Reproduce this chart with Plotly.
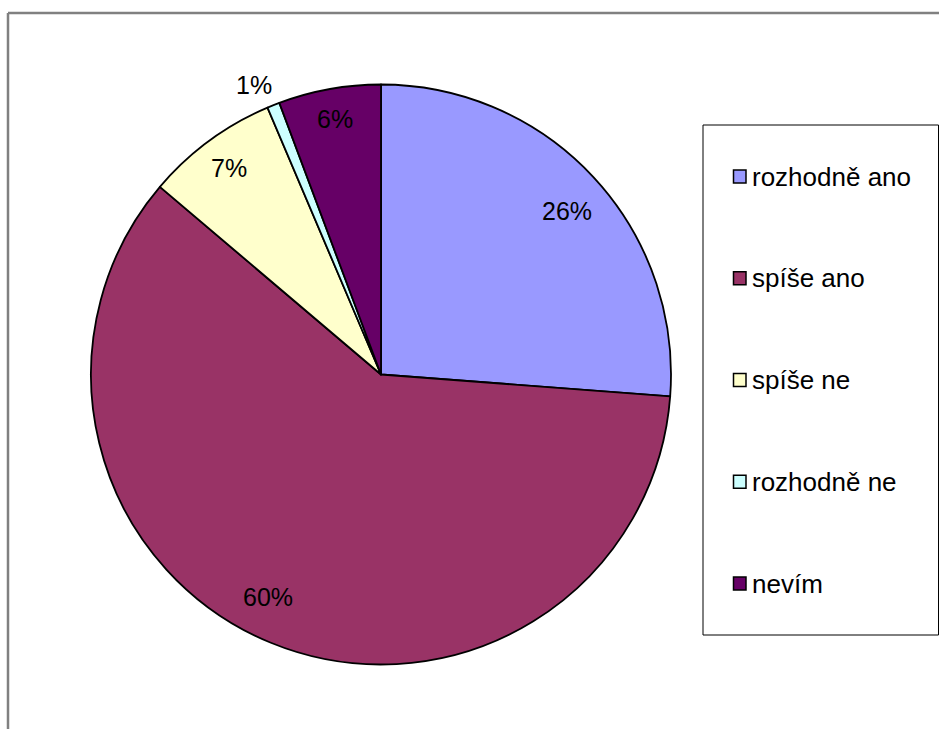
import math
import plotly.graph_objects as go

# ---- data ----
categories = ["rozhodně ano", "spíše ano", "spíše ne", "rozhodně ne", "nevím"]
values = [26.2, 60.0, 7.4, 0.7, 5.7]
colors = ["#9999FF", "#993366", "#FFFFCC", "#CCFFFF", "#660066"]

# label placement (style): radius factor and angle nudge (deg) per slice
label_r = [0.853, 0.86, 0.884, 1.09, 0.897]
label_dtheta = [1.5, 4.5, 0.0, -2.0, 0.0]

W, H = 939, 729
CX, CY, R = 381, 374.5, 290  # pie centre / radius in pixels

def px(x):
    return x / W

def py(y):
    return 1 - y / H

FONT = "Arial, Liberation Sans, sans-serif"

fig = go.Figure()
fig.add_trace(go.Pie(
    labels=categories,
    values=values,
    marker=dict(colors=colors, line=dict(color="black", width=1.8)),
    sort=False,
    direction="clockwise",
    rotation=0,
    textinfo="none",
    hoverinfo="label+percent",
    showlegend=False,
    domain=dict(x=[px(CX - R), px(CX + R)], y=[py(CY + R), py(CY - R)]),
))

annotations = []
shapes = []

# percent labels placed around slice mid-angles
total = sum(values)
cum = 0.0
for v, f, dth in zip(values, label_r, label_dtheta):
    frac = v / total
    mid = (cum + frac / 2) * 2 * math.pi + math.radians(dth)
    cum += frac
    x = CX + R * f * math.sin(mid)
    y = CY - R * f * math.cos(mid)
    annotations.append(dict(
        x=px(x), y=py(y), xref="paper", yref="paper",
        text=f"{round(frac * 100)}%", showarrow=False,
        font=dict(family=FONT, size=25, color="black"),
        xanchor="center", yanchor="middle",
    ))

# outer chart frame (gray, cut by the image edges)
shapes.append(dict(type="line", xref="paper", yref="paper",
                   x0=px(8), y0=py(13), x1=px(W + 10), y1=py(13),
                   line=dict(color="#808080", width=2.5)))
shapes.append(dict(type="line", xref="paper", yref="paper",
                   x0=px(8), y0=py(13), x1=px(8), y1=py(H + 10),
                   line=dict(color="#808080", width=2.5)))

# manual legend
LX0, LX1, LY0, LY1 = 703, 938.5, 125, 635
shapes.append(dict(type="rect", xref="paper", yref="paper",
                   x0=px(LX0), x1=px(LX1), y0=py(LY0), y1=py(LY1),
                   line=dict(color="black", width=1), fillcolor="rgba(0,0,0,0)"))
step = 101.75
cyl = (LY0 + LY1) / 2
n = len(categories)
for i, (cat, col) in enumerate(zip(categories, colors)):
    yc = cyl + (i - (n - 1) / 2) * step
    shapes.append(dict(type="rect", xref="paper", yref="paper",
                       x0=px(733.5), x1=px(746), y0=py(yc - 6.5), y1=py(yc + 6.5),
                       line=dict(color="black", width=1.5), fillcolor=col))
    annotations.append(dict(
        x=px(750), y=py(yc), xref="paper", yref="paper",
        text=cat, showarrow=False,
        font=dict(family=FONT, size=26, color="black"),
        xanchor="left", yanchor="middle",
    ))

fig.update_layout(
    width=W, height=H,
    margin=dict(l=0, r=0, t=0, b=0),
    paper_bgcolor="white",
    plot_bgcolor="white",
    annotations=annotations,
    shapes=shapes,
)

fig.write_html(
    "out.html",
    config={"displayModeBar": False},
    post_script="document.body.style.margin='0';document.body.style.overflow='hidden';",
)
